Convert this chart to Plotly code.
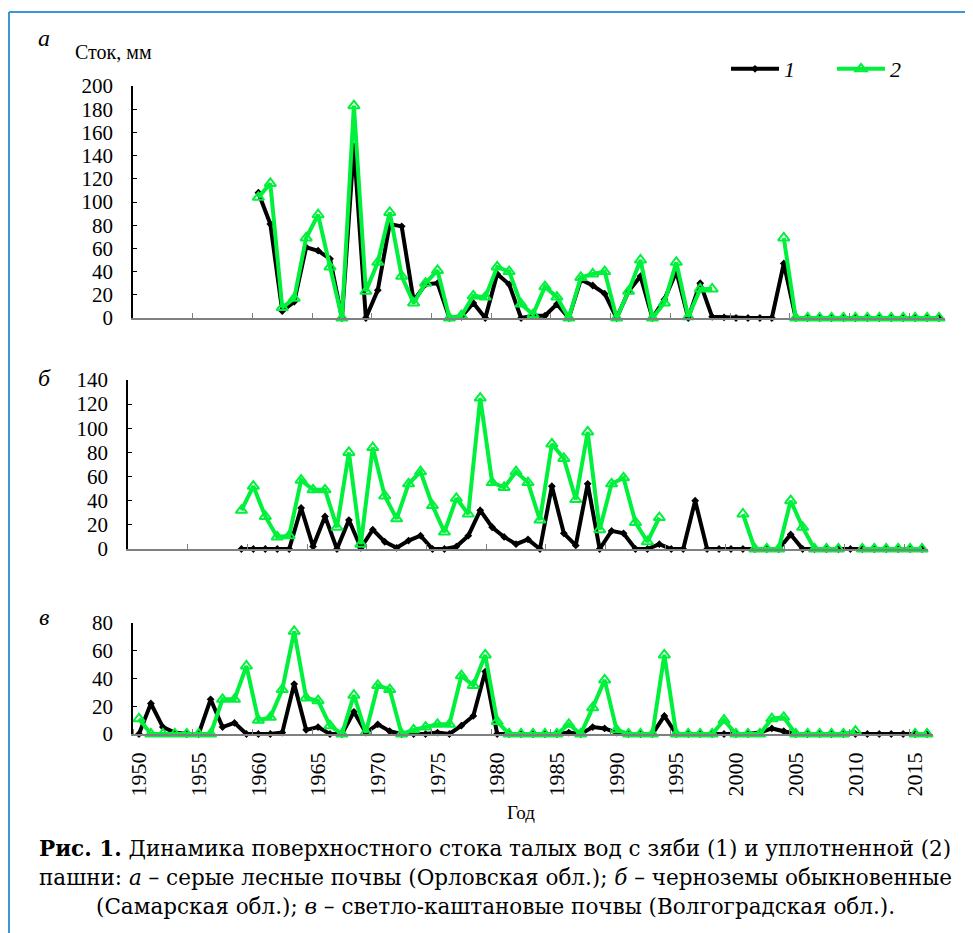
import plotly.graph_objects as go

W, H = 973, 933
OFF = 8  # page body margin of the html page
FONT = "Liberation Serif"
CAPFONT = "DejaVu Serif"
BLACK = "#000000"
GREEN = "#00F03C"
AXGRAY = "#808080"

# ---------------- data ----------------
years_a = list(range(1950, 2018))
years_bc = list(range(1950, 2017))

N = None
# panel a (grey forest soils), 1950..2017
a_black = [N]*10 + [108, 81, 6, 14, 61, 58, 51, 0, 148, 0,
                    24, 81, 79, 15, 29, 30, 0, 1, 13, 0,
                    38, 29, 0, 2, 2, 12, 0, 33, 28, 21,
                    0, 23, 36, 0, 16, 40, 0, 30, 1, 0.5,
                    0, 0, 0, 0, 47, 0, 0, 0, 0, 0,
                    0, 0, 0, 0, 0, 0, 0, 0]
a_green = [N]*10 + [104, 116, 9, 17, 69, 89, 44, 0, 183, 23,
                    48, 91, 36, 13, 30, 41, 0, 2, 19, 18,
                    44, 40, 12, 3, 27, 18, 0, 35, 38, 40,
                    0, 23, 50, 0, 13, 48, 1, 25, 25, N,
                    N, N, N, N, 69, 0, 0, 0, 0, 0,
                    0, 0, 0, 0, 0, 0, 0, 0]
# panel b (ordinary chernozems), 1950..2016
b_black = [N]*9 + [0, 0, 0, 0, 0, 34, 2, 27, 0, 24, 1,
                   16, 6, 1, 7, 11, 0, 0, 2, 11, 32,
                   18, 10, 4, 8, 0, 52, 13, 3, 54, 0,
                   15, 13, 0, 0, 4, 0, 0, 40, 0, 0,
                   0, 0, 0, 0, 0, 12, 0, 0, 0, 0,
                   0, 0, 0, 0, 0, 0, 0]
b_green = [N]*9 + [32, 52, 27, 10, 11, 57, 49, 49, 18, 80, 4,
                   84, 44, 25, 54, 64, 36, 14, 42, 29, 125,
                   55, 51, 64, 55, 24, 87, 75, 41, 97, 16,
                   54, 59, 22, 6, 26, N, N, N, N, N,
                   N, 29, 0, 0, 0, 40, 18, 0, 0, 0,
                   N, 0, 0, 0, 0, 0, 0]
# panel c (light chestnut soils), 1950..2016
c_black = [0, 22, 5, 1, 0, 0, 25, 5, 8, 0,
           0, 0, 1, 36, 3, 5, 0, 0, 16, 1,
           7, 2, 0, 0, 0, 1, 0, 6, 13, 45,
           0, 0, 0, 0, 0, 0, 1, 0, 5, 4,
           1, 0, 0, 0, 13, 0, 0, 0, 0, 0,
           0, 0, 1, 4, 2, 0, 0, 0, 0, 0,
           0, 0, 0, 0, 0, 0, 0]
c_green = [11, 0, 0, 0, 0, 0, 0, 25, 25, 49,
           10, 12, 32, 74, 26, 24, 6, 0, 28, 1,
           35, 32, 0, 3, 5, 7, 7, 42, 35, 57,
           9, 0, 0, 0, 0, 0, 7, 0, 19, 39,
           3, 0, 0, 0, 57, 0, 0, 0, 0, 10,
           0, 0, 0, 11, 12, 0, 0, 0, 0, 0,
           2, N, N, N, N, 0, 0]

label_years = list(range(1950, 2016, 5))
yt_a = list(range(0, 201, 20))
yt_b = list(range(0, 141, 20))
yt_c = list(range(0, 81, 20))

# ---------------- helpers (screen px -> paper) ----------------
def px(x):
    return (x - OFF) / W

def py(y):
    return 1 - (y - OFF) / H

fig = go.Figure()

def add_pair(xs, yb, yg, xa, ya, show):
    fig.add_trace(go.Scatter(
        x=xs, y=yb, mode="lines+markers", name="<i>1</i>",
        line=dict(color=BLACK, width=4),
        marker=dict(symbol="diamond", size=6, color=BLACK),
        xaxis=xa, yaxis=ya, cliponaxis=False, showlegend=show))
    fig.add_trace(go.Scatter(
        x=xs, y=yg, mode="lines+markers", name="<i>2</i>",
        line=dict(color=GREEN, width=4),
        marker=dict(symbol="triangle-up-open", size=10, color=GREEN,
                    line=dict(color=GREEN, width=2)),
        xaxis=xa, yaxis=ya, cliponaxis=False, showlegend=show))

add_pair(years_a, a_black, a_green, "x", "y", True)
add_pair(years_bc, b_black, b_green, "x2", "y2", False)
add_pair(years_bc, c_black, c_green, "x3", "y3", False)

ytickfont = dict(family=FONT, size=21, color="black")
xtickfont = dict(family=FONT, size=22, color="black")

def xaxis_common(domain, rng, ya, labels):
    d = dict(domain=[px(domain[0]), px(domain[1])], range=rng, anchor=ya,
             showgrid=False, zeroline=False, showline=True,
             linecolor=AXGRAY, linewidth=1.5, fixedrange=True, automargin=False)
    bounds = [v + 0.5 for v in range(1949, int(rng[1]), 5)]
    if labels:
        d.update(tickmode="array", tickvals=label_years,
                 ticktext=[str(v) for v in label_years],
                 ticks="", tickangle=-90, tickfont=xtickfont,
                 ticklabelstandoff=8,
                 minor=dict(tickmode="array", tickvals=bounds, ticks="inside",
                            ticklen=5, tickcolor=AXGRAY, tickwidth=1))
    else:
        d.update(tickmode="array", tickvals=bounds, ticks="inside", ticklen=5,
                 tickcolor=AXGRAY, tickwidth=1, showticklabels=False)
    return d

def yaxis_common(top, bottom, rng, tv, xa):
    return dict(domain=[py(bottom), py(top)], range=rng, anchor=xa,
                showgrid=False, zeroline=False, showline=True,
                linecolor="black", linewidth=1.5, ticks="inside", ticklen=4,
                tickcolor="black", tickvals=tv, tickfont=ytickfont,
                ticklabelstandoff=14, fixedrange=True, automargin=False)

fig.update_layout(
    width=W, height=H, margin=dict(l=0, r=0, t=0, b=0, autoexpand=False),
    paper_bgcolor="white", plot_bgcolor="white",
    font=dict(family=FONT, color="black"),
    xaxis=xaxis_common((133, 945), [1949.5, 2017.5], "y", False),
    xaxis2=xaxis_common((128, 928), [1949.5, 2016.5], "y2", False),
    xaxis3=xaxis_common((133, 933), [1949.5, 2016.5], "y3", True),
    yaxis=yaxis_common(86, 318, [0, 200], yt_a, "x"),
    yaxis2=yaxis_common(380, 549, [0, 140], yt_b, "x2"),
    yaxis3=yaxis_common(623, 734, [0, 80], yt_c, "x3"),
    legend=dict(orientation="h", x=px(726), y=py(69), xanchor="left",
                yanchor="middle", itemwidth=48, bgcolor="rgba(0,0,0,0)",
                font=dict(family=FONT, size=22, color="black"),
                tracegroupgap=0, entrywidth=43, entrywidthmode="pixels"),
)

ann = []
def text(x, y, s, size, xanchor="center", yanchor="middle", family=FONT):
    ann.append(dict(x=px(x), y=py(y), xref="paper", yref="paper", text=s,
                    showarrow=False, xanchor=xanchor, yanchor=yanchor,
                    font=dict(family=family, size=size, color="black")))

text(44, 38, "<i>а</i>", 24)
text(44, 378, "<i>б</i>", 24)
text(44, 617, "<i>в</i>", 24)
text(73, 52, "Сток, мм", 20, xanchor="left")
text(521, 812, "Год", 19)
text(495, 848, "<b>Рис. 1.</b> Динамика поверхностного стока талых вод с зяби (1) и уплотненной (2)", 21.5, family=CAPFONT)
text(495, 877, "пашни: <i>а</i> – серые лесные почвы (Орловская обл.); <i>б</i> – черноземы обыкновенные", 21.5, family=CAPFONT)
text(495, 906, "(Самарская обл.); <i>в</i> – светло-каштановые почвы (Волгоградская обл.).", 21.5, family=CAPFONT)
fig.update_layout(annotations=ann)

# blue frame (left and top edges)
fig.add_shape(type="line", xref="paper", yref="paper",
              x0=px(9), y0=py(12), x1=px(9), y1=0,
              line=dict(color="#3E95D8", width=2))
fig.add_shape(type="line", xref="paper", yref="paper",
              x0=px(9), y0=py(12), x1=1, y1=py(12),
              line=dict(color="#3E95D8", width=2))

fig.write_html("out.html")
